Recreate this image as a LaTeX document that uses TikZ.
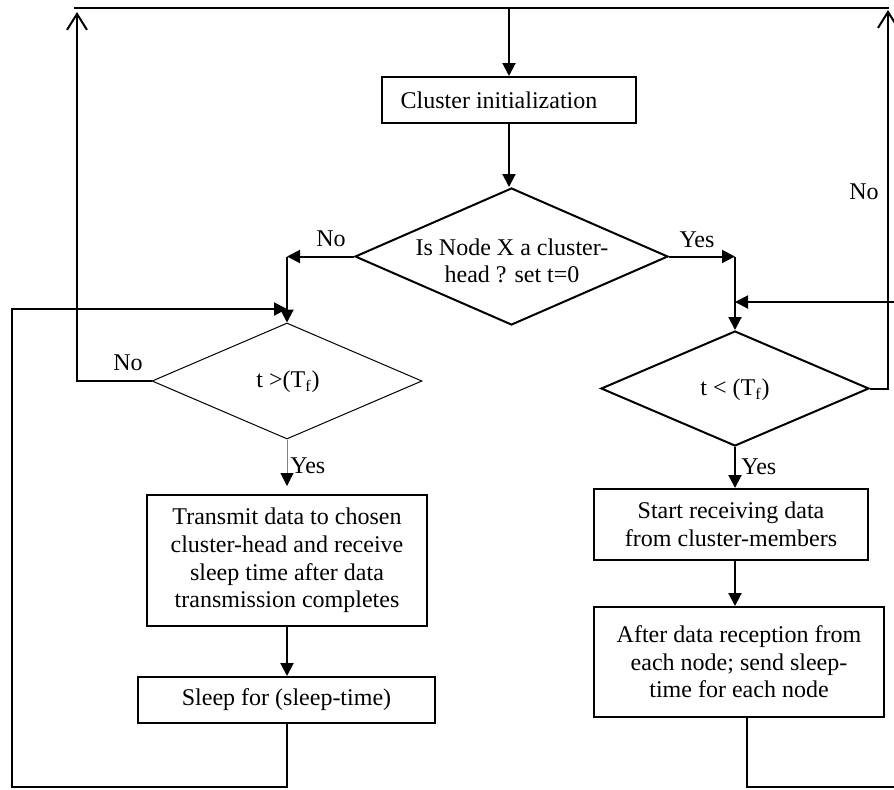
\documentclass[tikz,border=0pt]{standalone}
\usepackage{fontspec}
\setmainfont{Liberation Serif}
\usetikzlibrary{arrows.meta,shapes.geometric}
\begin{document}
\begin{tikzpicture}[x=0.5pt,y=-0.5pt,
  every node/.style={font=\fontsize{12}{13.8}\selectfont},
  procbox/.style={draw,line width=1pt,inner sep=0pt,align=center},
  decision/.style={draw,diamond,line width=1pt,inner sep=0pt},
  flow/.style={line width=1pt,-{Triangle[length=6.5pt,width=6.5pt]}},
  back/.style={line width=1pt,-{Straight Barb[length=8pt,width=10pt]}},
  lbl/.style={inner sep=0pt}]
\useasboundingbox (0,0) rectangle (894,789);
\clip (0,0) rectangle (894,789);

% process boxes and decisions
\node[procbox,minimum width=127pt,minimum height=23pt] (init) at (509,100) {Cluster initialization\hspace*{10pt}};
\node[decision,minimum width=156.5pt,minimum height=68.5pt] (d1) at (511.5,256.5) {};
\node[align=center] (d1t) at (512,261) {Is Node X a cluster-\\head ? set t=0};
\node[decision,line width=0.5pt,minimum width=135pt,minimum height=58pt] (d2) at (287,381) {};
\node (d2t) at (288,382) {t >(T\textsubscript{f})};
\node[decision,minimum width=134pt,minimum height=57.5pt] (d3) at (735,388.5) {};
\node (d3t) at (735,390) {t < (T\textsubscript{f})};
\node[procbox,minimum width=140pt,minimum height=65.5pt] (send) at (287,560.5)
  {Transmit data to chosen\\cluster-head and receive\\sleep time after data\\transmission completes};
\node[procbox,minimum width=148.5pt,minimum height=23pt] (sleep) at (286.5,700) {Sleep for (sleep-time)};
\node[procbox,minimum width=137pt,minimum height=35.5pt] (recv) at (731,524.5)
  {Start receiving data\\from cluster-members};
\node[procbox,minimum width=145pt,minimum height=55pt] (after) at (739,662)
  {After data reception from\\each node; send sleep-\\time for each node};

% branch labels
\node[lbl] (no1) at (331,239) {No};
\node[lbl] (yes1) at (697,240) {Yes};
\node[lbl] (no2) at (128,363) {No};
\node[lbl,anchor=west] (yes2) at (290,466) {Yes};
\node[lbl,anchor=west] (yes3) at (741,467) {Yes};
\node[lbl] (no3) at (864,192) {No};

% return bus along the top
\coordinate (topL) at (74,7.5);
\coordinate (topR) at (889,7.5);
\draw[line width=1pt] (topL) -- (topR);
\draw[flow] (init.north |- topL) -- (init.north);
\draw[flow] (init.south) -- (init.south |- d1.north);

% member branch
\draw[flow] (d1.west) -- (d1.west -| d2.north) coordinate (nosplit);
\draw[flow] (nosplit) -- (d2.north);
\coordinate (tl) at (77,12);
\draw[back] (d2.west) -| (tl);
\draw[gray,line width=0.5pt,shorten >=4pt,-{Triangle[length=6.5pt,width=6.5pt,black]}] (d2.south) -- (send.north);
\draw[flow] (send.south) -- (send.south |- sleep.north);
\coordinate (lcorner) at (12,787);
\coordinate (lin) at (287,309);
\draw[flow] (sleep.south) |- (lcorner) |- (lin);

% cluster-head branch
\draw[flow] (d1.east) -- (d1.east -| d3.north) coordinate (yessplit);
\draw[flow] (yessplit) -- (d3.north);
\coordinate (tr) at (888,10);
\draw[back] (d3.east) -| (tr);
\draw[flow] (d3.south) -- (d3.south |- recv.north);
\draw[flow] (d3.south |- recv.south) -- (d3.south |- after.north);
\coordinate (rcorner) at (898,787);
\coordinate (rin) at (735,302);
\draw[flow] ([xshift=4pt]after.south) |- (rcorner) |- (rin);
\end{tikzpicture}
\end{document}
